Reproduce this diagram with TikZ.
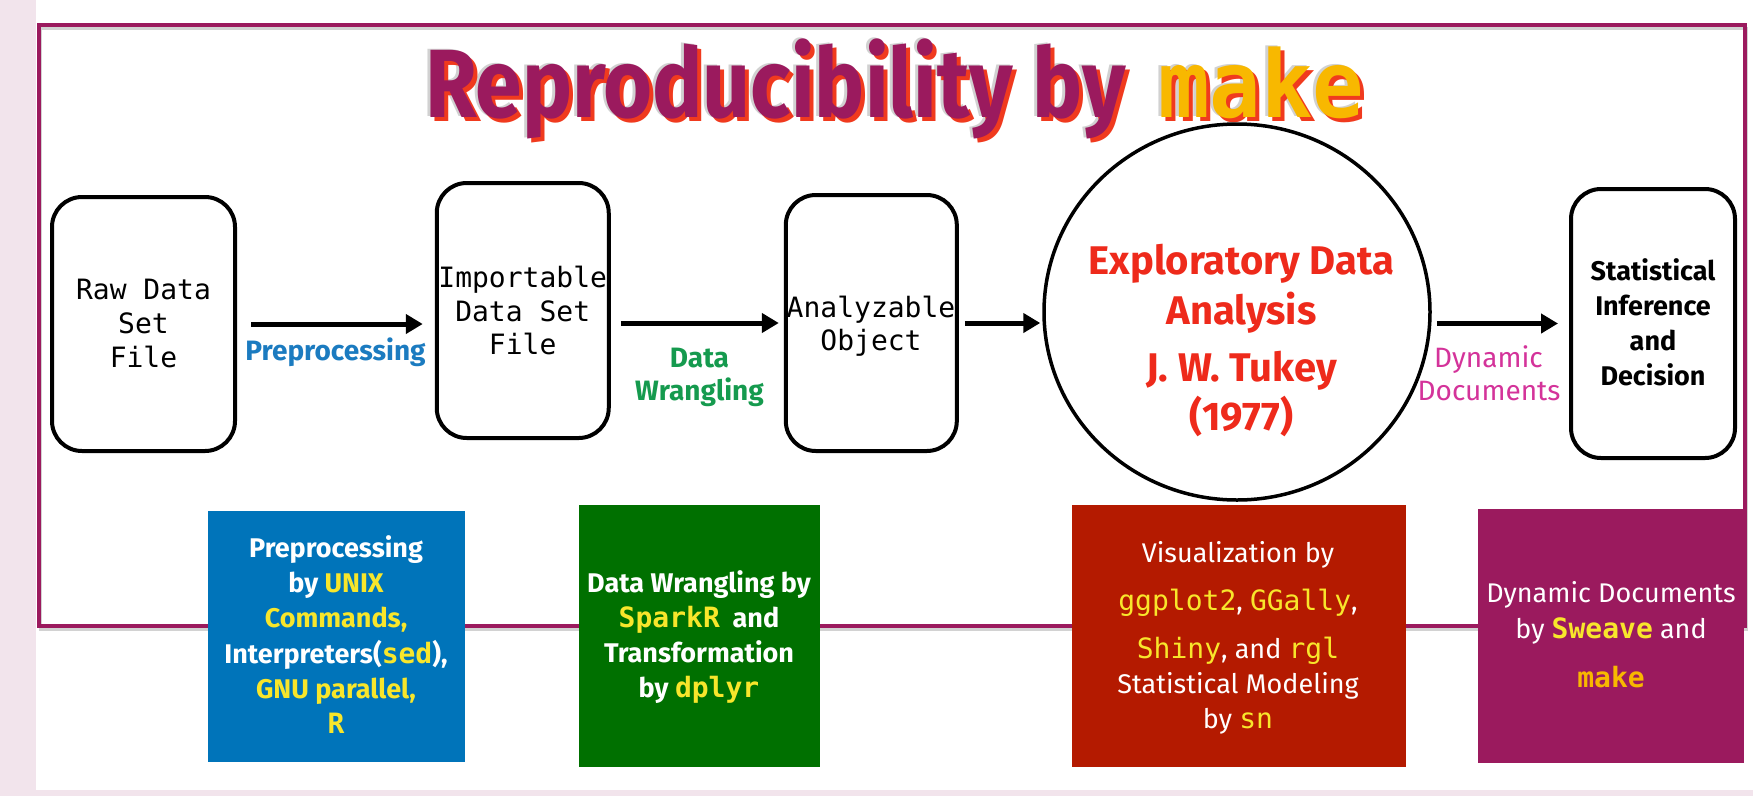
\documentclass[tikz,border=0pt]{standalone}
\usepackage{graphicx}
\usepackage{fontspec}
\setmainfont{Fira Sans}
\newfontfamily\dmono{DejaVu Sans Mono}
\usetikzlibrary{arrows.meta,shapes.geometric}
\definecolor{frm}{HTML}{9B1A5E}
\definecolor{pinkbg}{HTML}{F2E4EC}
\definecolor{mk}{HTML}{F8B800}
\definecolor{shred}{HTML}{F03A1E}
\definecolor{edared}{HTML}{EE2A1B}
\definecolor{pblue}{HTML}{1B7BC0}
\definecolor{dgreen}{HTML}{159A4E}
\definecolor{dpink}{HTML}{D4339A}
\definecolor{bxblue}{HTML}{0074BA}
\definecolor{bxgreen}{HTML}{007000}
\definecolor{bxred}{HTML}{B41A00}
\definecolor{ylw}{HTML}{F8E62B}
\newcommand{\yl}[1]{\textcolor{ylw}{#1}}
\newcommand{\mbf}[1]{{\dmono\bfseries\fontsize{28}{34}\selectfont\textcolor{ylw}{#1}}}
\newcommand{\mrg}[1]{{\dmono\fontsize{28}{34}\selectfont\textcolor{ylw}{#1}}}
\newcommand{\ttlA}{\scalebox{0.866}[1]{\fontsize{97}{97}\selectfont\bfseries Reproducibility by}}
\newcommand{\ttlB}{\scalebox{0.92}[1]{\fontsize{93}{93}\selectfont\dmono\bfseries make}}
\tikzset{
  rbox/.style={draw=black, line width=4pt, rounded corners=30pt, fill=white, inner sep=0pt},
  ln/.style={anchor=base, inner sep=0pt, outer sep=0pt},
  monof/.style={font=\dmono\fontsize{28}{34}\selectfont},
  edaf/.style={font=\bfseries\fontsize{40}{48}\selectfont, text=edared},
  statf/.style={font=\bfseries\fontsize{27}{34}\selectfont, text=black},
  lblf/.style={font=\bfseries\fontsize{28}{34}\selectfont},
  bboldf/.style={font=\bfseries\fontsize{27}{34}\selectfont, text=white},
  bregf/.style={font=\fontsize{27}{34}\selectfont, text=white},
  arr/.style={line width=5pt, -{Triangle[length=17pt,width=19pt]}},
  cbox/.style={inner sep=0pt, draw=none},
}
\begin{document}
\begin{tikzpicture}[x=1pt,y=-1pt]
\useasboundingbox (0,0) rectangle (1753,796);
\fill[white] (0,0) rectangle (1753,796);
\fill[pinkbg] (0,0) rectangle (36,796);
\fill[pinkbg] (0,790) rectangle (1753,796);
% frame
\draw[line width=3pt, black!35, opacity=0.5] (40,28) rectangle (1746,629);
\draw[line width=3.5pt, frm] (39,25) rectangle (1745,626);
% title
\node[anchor=base west, inner sep=0pt, text=black!40, opacity=0.45] (tg) at (422,116) {\ttlA};
\node[anchor=base west, inner sep=0pt, text=shred] (tr) at (429,121) {\ttlA};
\node[anchor=base west, inner sep=0pt, text=frm] (title) at (425,117) {\ttlA};
\node[anchor=base west, inner sep=0pt, text=black!40, opacity=0.45] (tmg) at (1155,116) {\ttlB};
\node[anchor=base west, inner sep=0pt, text=shred] (tmr) at (1162,121) {\ttlB};
\node[anchor=base west, inner sep=0pt, text=mk] (tmake) at (1158,117) {\ttlB};
% rounded boxes
\node[rbox, minimum width=183pt, minimum height=254pt] (raw) at (143.5,324) {};
\node[rbox, minimum width=172pt, minimum height=255pt] (imp) at (522.75,310.5) {};
\node[rbox, minimum width=171pt, minimum height=256pt] (ana) at (871.3,323) {};
\node[rbox, minimum width=164pt, minimum height=269pt] (stat) at (1653,323.5) {};
\node[draw=black, line width=3.5pt, ellipse, inner sep=0pt, minimum width=386pt, minimum height=376pt] (eda) at (1237,312) {};
% box texts
\node[ln, monof] (raw1) at (143.5,299) {Raw Data};
\node[ln, monof] (raw2) at (143.5,333) {Set};
\node[ln, monof] (raw3) at (143.5,367) {File};
\node[ln, monof] (imp1) at (522.7,287) {Importable};
\node[ln, monof] (imp2) at (522.7,321) {Data Set};
\node[ln, monof] (imp3) at (522.7,354) {File};
\node[ln, monof] (ana1) at (871,317) {Analyzable};
\node[ln, monof] (ana2) at (871,350) {Object};
\node[ln, edaf] (eda1) at (1241.5,274) {Exploratory Data};
\node[ln, edaf] (eda2) at (1241.5,324) {Analysis};
\node[ln, edaf] (eda3) at (1241.5,381) {J. W. Tukey};
\node[ln, edaf] (eda4) at (1241.5,430) {(1977)};
\node[ln, statf] (st1) at (1653,280) {Statistical};
\node[ln, statf] (st2) at (1653,315) {Inference};
\node[ln, statf] (st3) at (1653,350) {and};
\node[ln, statf] (st4) at (1653,385) {Decision};
% arrows
\draw[arr] ([xshift=14pt]raw.east) -- ([xshift=-12pt]imp.west |- raw.east);
\draw[arr] ([xshift=10pt]imp.east |- ana.west) -- ([xshift=-5pt]ana.west);
\draw[arr] ([xshift=6pt]ana.east) -- ([xshift=-2pt]eda.west |- ana.east);
\draw[arr] ([xshift=5pt]eda.east |- stat.west) -- ([xshift=-11pt]stat.west);
% arrow labels
\node[ln, lblf, text=pblue] (lpre) at (335.5,360) {Preprocessing};
\node[ln, lblf, text=dgreen] (ldw1) at (699.5,367) {Data};
\node[ln, lblf, text=dgreen] (ldw2) at (699.5,400) {Wrangling};
\node[ln, font=\mdseries\fontsize{28}{34}\selectfont, text=dpink] (ldd1) at (1488.5,367) {Dynamic};
\node[ln, font=\mdseries\fontsize{28}{34}\selectfont, text=dpink] (ldd2) at (1489,400) {Documents};
% coloured boxes
\node[cbox, fill=bxblue, minimum width=257pt, minimum height=251pt] (bb) at (336.5,636.5) {};
\node[cbox, fill=bxgreen, minimum width=241pt, minimum height=262pt] (gb) at (699.5,636) {};
\node[cbox, fill=bxred, minimum width=334.5pt, minimum height=262pt] (rb) at (1238.75,636) {};
\node[cbox, fill=frm, minimum width=266pt, minimum height=254pt] (pb) at (1611,636) {};
% blue texts
\node[ln, bboldf] (b1) at (336,557) {Preprocessing};
\node[ln, bboldf] (b2) at (336,592) {by \yl{UNIX}};
\node[ln, bboldf] (b3) at (336,627) {\yl{Commands,}};
\node[ln, bboldf] (b4) at (336,663) {Interpreters(\mbf{sed}),};
\node[ln, bboldf] (b5) at (336,698) {\yl{GNU parallel,}};
\node[ln, bboldf] (b6) at (336,733) {\mbf{R}};
% green texts
\node[ln, bboldf] (g1) at (699,592) {Data Wrangling by};
\node[ln, bboldf] (g2) at (699,627) {\mbf{SparkR}\ \ and};
\node[ln, bboldf] (g3) at (699,662) {Transformation};
\node[ln, bboldf] (g4) at (699,697) {by \mbf{dplyr}};
% red texts
\node[ln, bregf] (r1) at (1238,562) {Visualization by};
\node[ln, bregf] (r2) at (1238,610) {\mrg{ggplot2}, \mrg{GGally},};
\node[ln, bregf] (r3) at (1238,658) {\mrg{Shiny}, and \mrg{rgl}};
\node[ln, bregf] (r4) at (1238,693) {Statistical Modeling};
\node[ln, bregf] (r5) at (1238,728) {by \mrg{sn}};
% purple texts
\node[ln, bregf] (p1) at (1611,602) {Dynamic Documents};
\node[ln, bregf] (p2) at (1611,638) {by \mbf{Sweave} and};
\node[ln, bregf] (p3) at (1611,687) {{\dmono\bfseries\fontsize{28}{34}\selectfont\textcolor{mk}{make}}};
\end{tikzpicture}
\end{document}
